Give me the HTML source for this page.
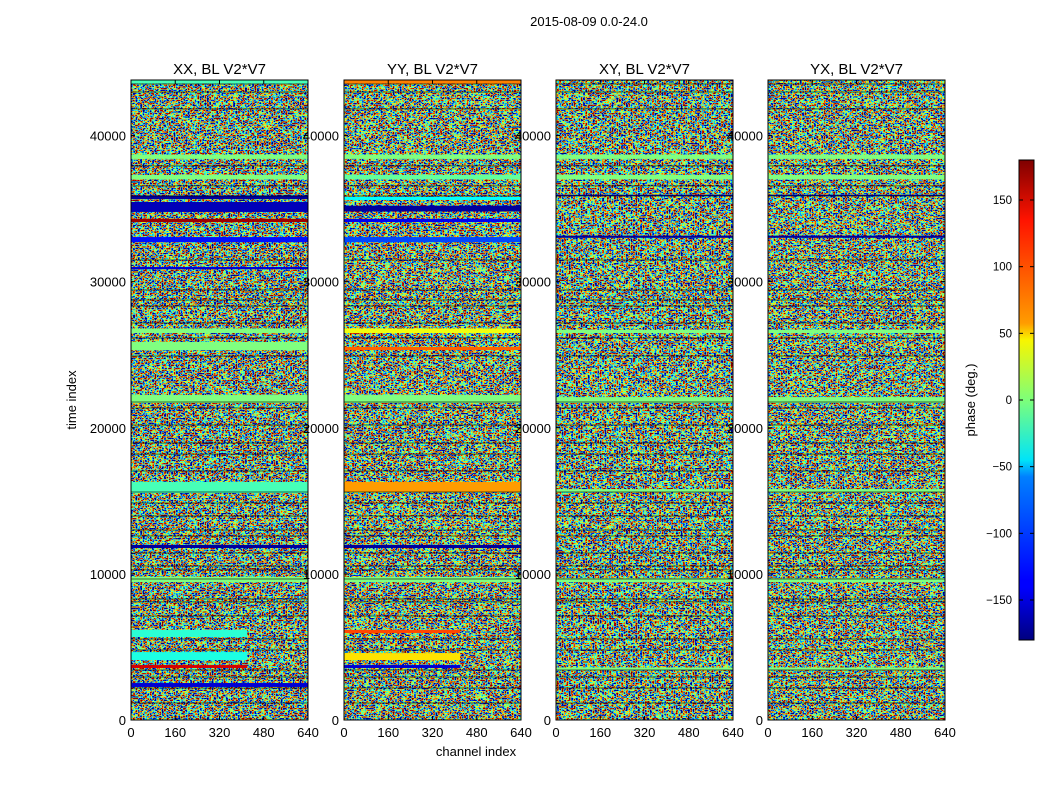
<!DOCTYPE html>
<html><head><meta charset="utf-8">
<style>
html,body{margin:0;padding:0;background:#fff;}
svg{display:block;font-family:"Liberation Sans",sans-serif;}
</style></head>
<body>
<svg id="fig" width="1050" height="800" viewBox="0 0 1050 800" xmlns="http://www.w3.org/2000/svg">
<defs>
<linearGradient id="jetGrad" x1="0" y1="1" x2="0" y2="0">
<stop offset="0" stop-color="#00007f"/><stop offset="0.11" stop-color="#0000ff"/>
<stop offset="0.125" stop-color="#0000ff"/><stop offset="0.34" stop-color="#0080ff"/>
<stop offset="0.375" stop-color="#00e4f8"/><stop offset="0.5" stop-color="#7dff7a"/>
<stop offset="0.625" stop-color="#f8f500"/><stop offset="0.66" stop-color="#ff9c00"/>
<stop offset="0.875" stop-color="#ff1300"/><stop offset="1" stop-color="#7f0000"/>
</linearGradient>
<filter id="noise0" x="0" y="0" width="100%" height="100%" color-interpolation-filters="sRGB"><feTurbulence type="fractalNoise" baseFrequency="0.42 0.6" numOctaves="1" seed="2"/><feColorMatrix type="matrix" values="3.0 0 0 0 -1.0 3.0 0 0 0 -1.0 3.0 0 0 0 -1.0 0 0 0 0 1"/><feComponentTransfer><feFuncR type="table" tableValues="0 0 0 0 0.5 1 1 1 0.5"/><feFuncG type="table" tableValues="0 0 0.5 1 1 1 0.5 0 0"/><feFuncB type="table" tableValues="0.5 1 1 1 0.5 0 0 0 0"/><feFuncA type="table" tableValues="1 1"/></feComponentTransfer></filter>
<filter id="noise1" x="0" y="0" width="100%" height="100%" color-interpolation-filters="sRGB"><feTurbulence type="fractalNoise" baseFrequency="0.42 0.6" numOctaves="1" seed="7"/><feColorMatrix type="matrix" values="3.0 0 0 0 -1.0 3.0 0 0 0 -1.0 3.0 0 0 0 -1.0 0 0 0 0 1"/><feComponentTransfer><feFuncR type="table" tableValues="0 0 0 0 0.5 1 1 1 0.5"/><feFuncG type="table" tableValues="0 0 0.5 1 1 1 0.5 0 0"/><feFuncB type="table" tableValues="0.5 1 1 1 0.5 0 0 0 0"/><feFuncA type="table" tableValues="1 1"/></feComponentTransfer></filter>
<filter id="noise2" x="0" y="0" width="100%" height="100%" color-interpolation-filters="sRGB"><feTurbulence type="fractalNoise" baseFrequency="0.42 0.6" numOctaves="1" seed="13"/><feColorMatrix type="matrix" values="3.0 0 0 0 -1.0 3.0 0 0 0 -1.0 3.0 0 0 0 -1.0 0 0 0 0 1"/><feComponentTransfer><feFuncR type="table" tableValues="0 0 0 0 0.5 1 1 1 0.5"/><feFuncG type="table" tableValues="0 0 0.5 1 1 1 0.5 0 0"/><feFuncB type="table" tableValues="0.5 1 1 1 0.5 0 0 0 0"/><feFuncA type="table" tableValues="1 1"/></feComponentTransfer></filter>
<filter id="noise3" x="0" y="0" width="100%" height="100%" color-interpolation-filters="sRGB"><feTurbulence type="fractalNoise" baseFrequency="0.42 0.6" numOctaves="1" seed="21"/><feColorMatrix type="matrix" values="3.0 0 0 0 -1.0 3.0 0 0 0 -1.0 3.0 0 0 0 -1.0 0 0 0 0 1"/><feComponentTransfer><feFuncR type="table" tableValues="0 0 0 0 0.5 1 1 1 0.5"/><feFuncG type="table" tableValues="0 0 0.5 1 1 1 0.5 0 0"/><feFuncB type="table" tableValues="0.5 1 1 1 0.5 0 0 0 0"/><feFuncA type="table" tableValues="1 1"/></feComponentTransfer></filter>
</defs>
<text x="589" y="26" font-size="13" text-anchor="middle">2015-08-09 0.0-24.0</text>
<g id="panels"></g>
<g id="cbar"></g>
</svg>
<script>
// ---- data ----
const panelTitles = ["XX, BL V2*V7", "YY, BL V2*V7", "XY, BL V2*V7", "YX, BL V2*V7"];
const xTicks = [0, 160, 320, 480, 640];
const yTicks = [0, 10000, 20000, 30000, 40000];
const cbarTicks = [-150, -100, -50, 0, 50, 100, 150];
// flagged gaps (time index) shown as black lines
const gapTimes = [43530, 42980, 41820, 37920, 36550, 35860, 31480, 29430, 28740, 28330, 27170, 26140, 24910, 21760, 21350, 20190, 18960, 18200, 17040, 15600, 14850, 13960, 13000, 12590, 11430, 10540, 10270, 9650, 8280, 8080, 7120, 5540, 4790, 3420, 2940, 2190, 1160];
// coherent bands: [tStart, tEnd, phaseDeg, lastChannel]
const bandsXX = [[38400,38700,0,640],[37000,37300,0,640],[35650,35900,-170,640],[34770,35450,-160,640],[34080,34300,170,640],[32700,33050,-130,640],[30850,31000,-150,640],[26480,26800,0,640],[25300,25870,0,640],[21700,22240,0,640],[15530,16290,-20,640],[11770,11980,-170,640],[9440,9790,0,640],[5680,6160,-30,420],[4100,4650,-35,420],[3560,3760,150,420],[2260,2530,-150,640],[43550,43800,-20,640]];
const bandsYY = [[38400,38700,0,640],[37000,37300,-10,640],[35590,35800,-45,640],[34800,35200,-170,640],[34080,34300,-140,640],[32700,33050,-110,640],[26480,26800,40,640],[25320,25530,100,640],[21700,22240,0,640],[15600,16290,80,640],[11770,11980,-170,640],[9440,9790,0,640],[5950,6160,110,420],[4100,4580,55,420],[3560,3760,-150,420],[43550,43800,90,640]];
const bandsXY = [[38400,38700,0,640],[37000,37300,0,640],[35860,35950,-170,640],[33000,33150,-170,640],[26480,26700,0,640],[21700,22100,0,640],[15600,15800,0,640],[9440,9700,0,640],[3400,3600,0,640]];
const bandsYX = [[38400,38700,0,640],[37000,37300,0,640],[35860,35950,-170,640],[33000,33150,-170,640],[26480,26700,0,640],[21700,22100,0,640],[15600,15800,0,640],[9440,9700,0,640],[3400,3600,0,640]];
const panelBands = [bandsXX, bandsYY, bandsXY, bandsYX];

// ---- layout ----
const NS = "http://www.w3.org/2000/svg";
const panelLeft = [131, 344, 556, 768];
const panelW = 177, top0 = 80, bot0 = 720;
const tMax = 43800, chMax = 640;
function yScale(t){ return bot0 - t/tMax*(bot0-top0); }
function xScale(p,c){ return panelLeft[p] + c/chMax*panelW; }
function jet(v){
  const r = Math.min(Math.max(Math.min(4*v-1.5, -4*v+4.5),0),1);
  const g = Math.min(Math.max(Math.min(4*v-0.5, -4*v+3.5),0),1);
  const b = Math.min(Math.max(Math.min(4*v+0.5, -4*v+2.5),0),1);
  return `rgb(${Math.round(r*255)},${Math.round(g*255)},${Math.round(b*255)})`;
}
function phaseColor(ph){ return jet((ph+180)/360); }
function mk(tag, attrs, parent){
  const el = document.createElementNS(NS, tag);
  for (const k in attrs) el.setAttribute(k, attrs[k]);
  parent.appendChild(el); return el;
}
const G = document.getElementById('panels');
panelTitles.forEach((title, p) => {
  const g = mk('g', {}, G);
  
  
  const L = panelLeft[p];
  const bg = mk('rect', {x:L, y:top0, width:panelW, height:bot0-top0, fill:'#7dff7a', filter:`url(#noise${p})`}, g);
  
  
  panelBands[p].forEach(b => {
    const y1 = yScale(b[1]), y0 = yScale(b[0]);
    const r = mk('rect', {x:xScale(p,0), y:y1, width:xScale(p,b[3])-xScale(p,0), height:Math.max(1,y0-y1), fill:phaseColor(b[2])}, g);
    
    
  });
  gapTimes.forEach(t => {
    const y = yScale(t);
    const l = mk('line', {x1:L, x2:L+panelW, y1:y, y2:y, stroke:'#000', 'stroke-width':1, opacity:0.6}, g);
    
    
  });
  const fr = mk('rect', {x:L, y:top0, width:panelW, height:bot0-top0, fill:'none', stroke:'#000', 'stroke-width':1}, g);
  
  
  const tt = mk('text', {x:L+panelW/2, y:74, 'font-size':15, 'text-anchor':'middle'}, g);
  tt.textContent = title;
  
  
  xTicks.forEach(c => {
    const x = xScale(p,c);
    mk('line', {x1:x, x2:x, y1:bot0, y2:bot0-4, stroke:'#000'}, g);
    mk('line', {x1:x, x2:x, y1:top0, y2:top0+4, stroke:'#000'}, g);
    const tx = mk('text', {x:x, y:737, 'font-size':13, 'text-anchor':'middle'}, g);
    tx.textContent = c;
    
    
  });
  yTicks.forEach(t => {
    const y = yScale(t);
    mk('line', {x1:L, x2:L+4, y1:y, y2:y, stroke:'#000'}, g);
    mk('line', {x1:L+panelW, x2:L+panelW-4, y1:y, y2:y, stroke:'#000'}, g);
    const ty = mk('text', {x:L-5, y:y+5, 'font-size':13, 'text-anchor':'end'}, g);
    ty.textContent = t;
    
    
  });
});
const xl = mk('text', {x:476, y:756, 'font-size':13, 'text-anchor':'middle'}, G);
xl.textContent = 'channel index';


const yl = mk('text', {x:0, y:0, 'font-size':13, 'text-anchor':'middle', transform:'translate(76,400) rotate(-90)'}, G);
yl.textContent = 'time index';



// colorbar
const C = document.getElementById('cbar');
const cbX = 1019, cbW = 15, cbTop = 160, cbBot = 640;
function cbY(ph){ return cbBot - (ph+180)/360*(cbBot-cbTop); }
const cb = mk('rect', {x:cbX, y:cbTop, width:cbW, height:cbBot-cbTop, fill:'url(#jetGrad)', stroke:'#000', 'stroke-width':1}, C);


cbarTicks.forEach(v => {
  const y = cbY(v);
  mk('line', {x1:cbX, x2:cbX+4, y1:y, y2:y, stroke:'#000'}, C);
  mk('line', {x1:cbX+cbW, x2:cbX+cbW-4, y1:y, y2:y, stroke:'#000'}, C);
  const t = mk('text', {x:1012, y:y+4, 'font-size':11.5, 'text-anchor':'end'}, C);
  t.textContent = v < 0 ? '\u2212' + Math.abs(v) : String(v);
  
  
});
const cl = mk('text', {x:0, y:0, 'font-size':13, 'text-anchor':'middle', transform:'translate(975,400) rotate(-90)'}, C);
cl.textContent = 'phase (deg.)';


</script>
</body></html>
